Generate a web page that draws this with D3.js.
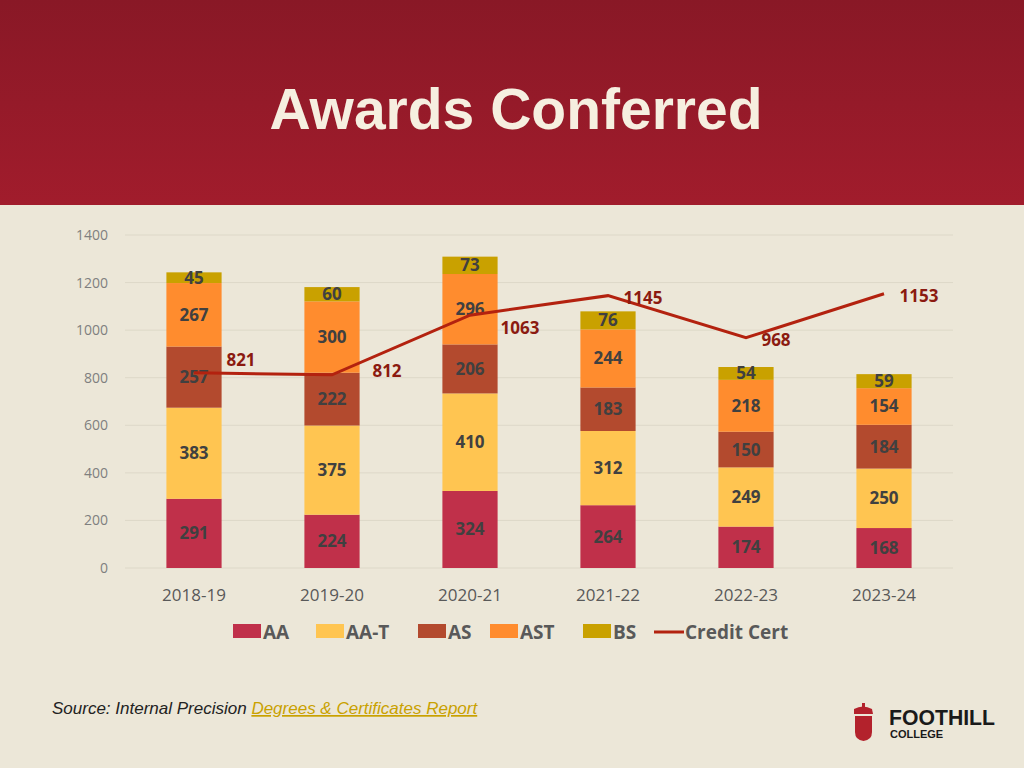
<!DOCTYPE html>
<html><head><meta charset="utf-8">
<script src="https://cdn.jsdelivr.net/npm/d3@7"></script>
<style>
body{margin:0;background:#ece7d8;}
svg{display:block;}
</style></head><body>
<svg id="chart" width="1024" height="768"></svg>
<script>
// chart data
const years = ["2018-19", "2019-20", "2020-21", "2021-22", "2022-23", "2023-24"];
const seriesNames = ["AA", "AA-T", "AS", "AST", "BS"];
const aa = [291, 224, 324, 264, 174, 168];
const aaT = [383, 375, 410, 312, 249, 250];
const as = [257, 222, 206, 183, 150, 184];
const ast = [267, 300, 296, 244, 218, 154];
const bs = [45, 60, 73, 76, 54, 59];
const creditCert = [821, 812, 1063, 1145, 968, 1153];
const yTicks = [0, 200, 400, 600, 800, 1000, 1200, 1400];
// label nudges for the credit cert values
const certLabelDx = [47, 55, 50, 35, 30, 35];
const certLabelDy = [-13, -4, 13, 2, 2, 2];

const colors = ["#c0304a", "#ffc551", "#b34a2e", "#ff8c2e", "#c9a100"];
const lineColor = "#b3220f";

const svg = d3.select("#chart");
const defs = svg.append("defs");
const grad = defs.append("linearGradient").attr("id", "hdr").attr("x1", 0).attr("y1", 0).attr("x2", 0).attr("y2", 1);
grad.append("stop").attr("offset", "0%").attr("stop-color", "#891826");
grad.append("stop").attr("offset", "100%").attr("stop-color", "#a11c2c");
svg.append("rect").attr("width", 1024).attr("height", 205).attr("fill", "url(#hdr)");
svg.append("text").attr("x", 516).attr("y", 129).attr("text-anchor", "middle")
  .attr("font-family", "Liberation Sans, Arial").attr("font-weight", "bold").attr("font-size", 57)
  .attr("fill", "#f6efe0").text("Awards Conferred");

const x = d3.scaleBand().domain(years).range([125, 953]).paddingInner(0.6).paddingOuter(0.3);
const y = d3.scaleLinear().domain([0, 1400]).range([568, 235]);

const g = svg.append("g");
g.selectAll(".grid").data(yTicks).join("line")
  .attr("x1", 125).attr("x2", 953).attr("y1", d => y(d)).attr("y2", d => y(d))
  .attr("stroke", "#ddd8c8").attr("stroke-width", 1);
g.selectAll(".ytick").data(yTicks).join("text")
  .attr("x", 108).attr("y", d => y(d) + 5).attr("text-anchor", "end")
  .attr("font-family", "Open Sans").attr("font-size", 14).attr("fill", "#7f7f7f").text(d => d);
g.selectAll(".xtick").data(years).join("text")
  .attr("x", d => x(d) + x.bandwidth() / 2).attr("y", 601).attr("text-anchor", "middle")
  .attr("font-family", "Open Sans").attr("font-size", 17).attr("fill", "#595959").text(d => d);

const table = years.map((yr, i) => ({ year: yr, AA: aa[i], "AA-T": aaT[i], AS: as[i], AST: ast[i], BS: bs[i] }));
const stacked = d3.stack().keys(seriesNames)(table);

stacked.forEach((s, k) => {
  const sg = g.append("g");
  sg.selectAll("rect").data(s).join("rect")
    .attr("x", d => x(d.data.year)).attr("width", x.bandwidth())
    .attr("y", d => y(d[1])).attr("height", d => y(d[0]) - y(d[1]))
    .attr("fill", colors[k]);
  sg.selectAll("text").data(s).join("text")
    .attr("x", d => x(d.data.year) + x.bandwidth() / 2)
    .attr("y", d => (y(d[0]) + y(d[1])) / 2 + 6).attr("text-anchor", "middle")
    .attr("font-family", "Open Sans").attr("font-weight", "bold").attr("font-size", 17)
    .attr("fill", "#404040").text(d => d[1] - d[0]);
});

const line = d3.line().x((d, i) => x(years[i]) + x.bandwidth() / 2).y(d => y(d));
g.append("path").datum(creditCert).attr("d", line).attr("fill", "none")
  .attr("stroke", lineColor).attr("stroke-width", 3);
g.selectAll(".cl").data(creditCert).join("text")
  .attr("x", (d, i) => x(years[i]) + x.bandwidth() / 2 + certLabelDx[i])
  .attr("y", (d, i) => y(d) + certLabelDy[i] + 6).attr("text-anchor", "middle")
  .attr("font-family", "Open Sans").attr("font-weight", "bold").attr("font-size", 17)
  .attr("fill", "#8b1a10").text(d => d);

// legend
const legendX = [233, 316, 418, 490, 583];
const lg = svg.append("g").attr("font-family", "Open Sans").attr("font-weight", "bold").attr("font-size", 19).attr("fill", "#595959");
seriesNames.forEach((n, i) => {
  lg.append("rect").attr("x", legendX[i]).attr("y", 624).attr("width", 28).attr("height", 14).attr("fill", colors[i]);
  lg.append("text").attr("x", legendX[i] + 30).attr("y", 639).text(n);
});
lg.append("line").attr("x1", 654).attr("x2", 684).attr("y1", 632).attr("y2", 632).attr("stroke", lineColor).attr("stroke-width", 3);
lg.append("text").attr("x", 685).attr("y", 639).text("Credit Cert");

// footer
const ft = svg.append("text").attr("x", 52).attr("y", 714).attr("font-family", "Liberation Sans, Arial")
  .attr("font-style", "italic").attr("font-size", 17).attr("fill", "#222");
ft.append("tspan").text("Source: Internal Precision ");
ft.append("tspan").attr("fill", "#c9a100").attr("text-decoration", "underline").text("Degrees & Certificates Report");

// logo
const logo = svg.append("g").attr("transform", "translate(853,703)");
logo.append("rect").attr("x", 9).attr("y", 0).attr("width", 3).attr("height", 5).attr("fill", "#b3222c");
logo.append("path").attr("d", "M1,6 Q10,1 19,6 L20,11 L1,11 Z").attr("fill", "#b3222c");
logo.append("path").attr("d", "M2,13 L19,13 L19,29 Q19,37 10.5,38 Q2,37 2,29 Z").attr("fill", "#b3222c");
svg.append("text").attr("x", 889).attr("y", 725).attr("font-family", "Liberation Sans").attr("font-weight", "bold").attr("font-size", 22)
  .attr("textLength", 106).attr("lengthAdjust", "spacingAndGlyphs")
  .attr("fill", "#1a1a1a").text("FOOTHILL");
svg.append("text").attr("x", 890).attr("y", 738).attr("font-family", "Liberation Sans").attr("font-weight", "bold").attr("font-size", 11)
  .attr("fill", "#1a1a1a").text("COLLEGE");
</script>
</body></html>
